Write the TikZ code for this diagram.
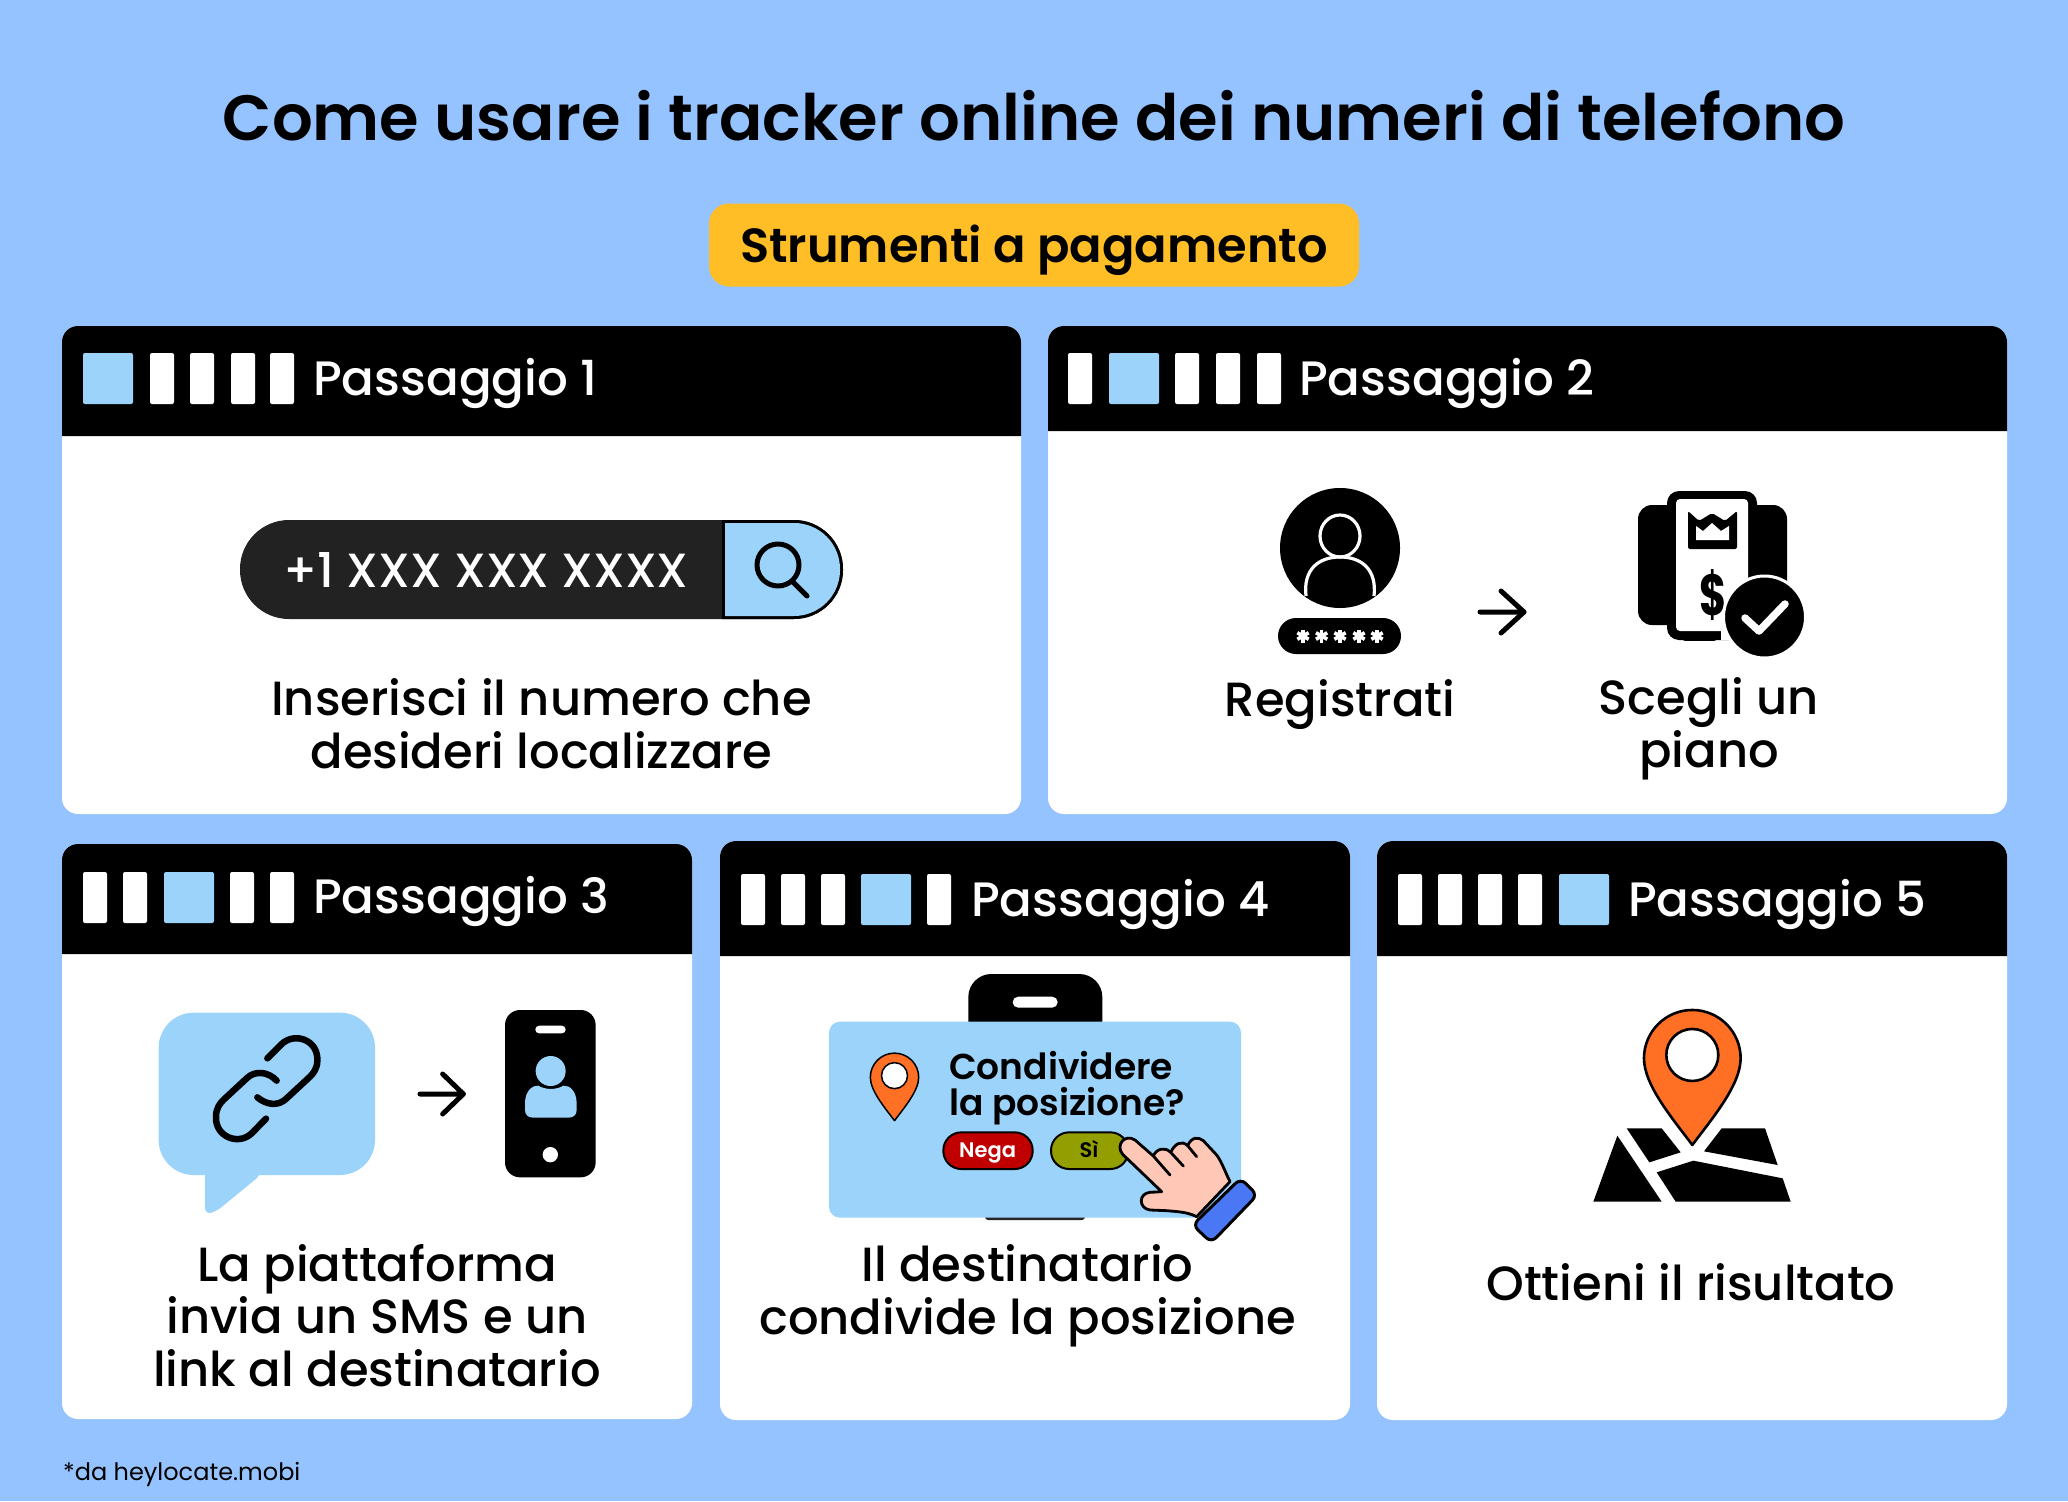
\documentclass[tikz,border=0pt]{standalone}
\usepackage{fontspec}
\usepackage{graphicx}
\setmainfont{Poppins}
\newfontfamily\pmed{Poppins Medium}
\newfontfamily\psemi{Poppins SemiBold}
\newfontfamily\pbold{Poppins Bold}
\definecolor{bgblue}{HTML}{94C3FF}
\definecolor{skyb}{HTML}{9BD3FA}
\definecolor{amber}{HTML}{FFBE26}
\definecolor{orangepin}{HTML}{FF6F24}
\definecolor{darkbar}{HTML}{222222}
\definecolor{redbtn}{HTML}{C00000}
\definecolor{olivebtn}{HTML}{939E00}
\definecolor{skin}{HTML}{FFC7B5}
\definecolor{cuffblue}{HTML}{4A78F5}
\tikzset{
  hdr/.style={anchor=base west,inner sep=0pt,text=white,font=\pmed\fontsize{48.3}{54}\selectfont},
  body/.style={align=center,inner sep=0pt,text=black,font=\pmed\fontsize{48}{52.6}\selectfont},
  wsq/.style={fill=white,rounded corners=2pt},
  bsq/.style={fill=skyb,rounded corners=2pt},
  arrowline/.style={draw=black,line width=5pt,line cap=round,line join=round},
  ico/.style={line cap=round,line join=round}
}
\newcommand\cardbox[5]{%
  \fill[white,rounded corners=16pt] (#1,#3) rectangle (#2,#5);
  \fill[black] (#1,#4) [rounded corners=16pt] -- (#1,#3) -- (#2,#3) [sharp corners] -- (#2,#4) -- cycle;}
\newcommand\whitesq[3]{\fill[wsq] (#1,#2) rectangle ++(24,#3);}
\newcommand\bluesq[3]{\fill[bsq] (#1,#2) rectangle ++(50,#3);}
\newcommand\pinmark[4]{% x y scale linewidth
  \begin{scope}[shift={(#1,#2)},scale=#3]
    \draw[fill=orangepin,line width=#4,line join=round] (0,260) .. controls (-60,180) and (-145,80) .. (-145,0)
      .. controls (-145,-80) and (-80,-145) .. (0,-145) .. controls (80,-145) and (145,-80) .. (145,0)
      .. controls (145,80) and (60,180) .. cycle;
    \draw[fill=white,line width=#4] (0,-10) circle (78);
  \end{scope}}
\newcommand\astermark[2]{%
  \foreach \aa in {90,30,-30}{\draw[white,line width=3.6pt] (#1,#2) ++(\aa:6.5) -- ++(\aa+180:13);}}
\begin{document}
\begin{tikzpicture}[x=1pt,y=-1pt]
\useasboundingbox (0,0) rectangle (2068,1501);
\fill[bgblue] (0,0) rectangle (2068,1501);
\node[anchor=base,inner sep=0pt,font=\psemi\fontsize{64}{70}\selectfont] (title) at (1034,140) {Come usare i tracker online dei numeri di telefono};
\node[fill=amber,rounded corners=20pt,minimum width=650pt,minimum height=83pt,inner sep=0pt] (badge) at (1034,245) {};
\node[anchor=base,inner sep=0pt,font=\psemi\fontsize{47.9}{54}\selectfont] (badgetext) at (1034,262) {Strumenti a pagamento};
% cards
\cardbox{62}{1021}{326}{436}{814}
\cardbox{1048}{2007}{326}{431}{814}
\cardbox{62}{692}{844}{954}{1419}
\cardbox{720}{1350}{841}{956}{1420}
\cardbox{1377}{2007}{841}{956}{1420}
% header squares
\bluesq{83}{353}{51}\whitesq{150}{353}{51}\whitesq{190}{353}{51}\whitesq{231}{353}{51}\whitesq{270}{353}{51}
\whitesq{1068}{353}{51}\bluesq{1109}{353}{51}\whitesq{1175}{353}{51}\whitesq{1216}{353}{51}\whitesq{1257}{353}{51}
\whitesq{83}{872}{51}\whitesq{123}{872}{51}\bluesq{164}{872}{51}\whitesq{230}{872}{51}\whitesq{270}{872}{51}
\whitesq{741}{874}{51}\whitesq{781}{874}{51}\whitesq{821}{874}{51}\bluesq{861}{874}{51}\whitesq{927}{874}{51}
\whitesq{1398}{874}{51}\whitesq{1438}{874}{51}\whitesq{1478}{874}{51}\whitesq{1518}{874}{51}\bluesq{1559}{874}{51}
\node[hdr] (h1) at (313,395) {Passaggio 1};
\node[hdr] (h2) at (1299,395) {Passaggio 2};
\node[hdr] (h3) at (313,913) {Passaggio 3};
\node[hdr] (h4) at (971,916) {Passaggio 4};
\node[hdr] (h5) at (1628,916) {Passaggio 5};
% body text
\node[body] (t1) at (541.5,724) {Inserisci il numero che\\desideri localizzare};
\node[body] (t2a) at (1340,705) {Registrati};
\node[body] (t2b) at (1709,729) {Scegli un\\piano};
\node[body] (t3) at (377,1315.5) {La piattaforma\\invia un SMS e un\\link al destinatario};
\node[body] (t4) at (1027.5,1296) {Il destinatario\\condivide la posizione};
\node[body] (t5) at (1691,1282) {Ottieni il risultato};
\node[anchor=base west,inner sep=0pt,font=\fontsize{24}{28}\selectfont] (foot) at (63,1480) {*da heylocate.mobi};
% search bar
\fill[darkbar,rounded corners=49pt] (240,520) rectangle (843,619);
\fill[black] (722,520) [rounded corners=49pt] -- (843,520) -- (843,619) [sharp corners] -- (722,619) -- cycle;
\fill[skyb] (725,523) [rounded corners=46pt] -- (840,523) -- (840,616) [sharp corners] -- (725,616) -- cycle;
\node[inner sep=0pt,text=white,font=\pmed\fontsize{48}{54}\selectfont] (num) at (486,569.5) {+1 XXX XXX XXXX};
\draw[ico,line width=5pt] (778,565) circle (21);
\draw[ico,line width=5pt] (792,581) -- (807,596);
% step 2 avatar
\fill[black] (1340,548) circle (60);
\draw[white,line width=3.2pt] (1340,536) ellipse (20 and 21);
\draw[white,line width=3.2pt] (1306,596) .. controls (1303,570) and (1318,557) .. (1340,557) .. controls (1362,557) and (1377,570) .. (1374,596);
\fill[black,rounded corners=18pt] (1278,618) rectangle (1401,654);
\foreach \xx in {1303,1321.6,1340,1359,1377}{\astermark{\xx}{636}}
\coordinate (a2s) at (1480,612);
\coordinate (a2e) at (1524,612);
\draw[arrowline] (a2s) -- (a2e) -- ++(-23,-21);
\draw[arrowline] (a2e) -- ++(-23,21);
% plan icon
\fill[black,rounded corners=14pt] (1638,505) rectangle (1787,625);
\fill[black,rounded corners=12pt] (1667,491) rectangle (1757,640);
\fill[white,rounded corners=4pt] (1676,499) rectangle (1748,631);
\fill[black,rounded corners=2pt] (1688,511) -- (1699,521) -- (1712,513) -- (1725,521) -- (1737,511) -- (1737,549) -- (1688,549) -- cycle;
\fill[white] (1696,526) -- (1703,531) -- (1712,523) -- (1721,531) -- (1729,526) -- (1729,540) -- (1696,540) -- cycle;
\node[inner sep=0pt,font=\pbold\fontsize{58}{60}\selectfont] (dollar) at (1713.5,595) {\scalebox{0.72}[1]{\$}};
\fill[white] (1721,640) rectangle (1760,631);
\draw[black,line width=9pt,line cap=round] (1685,636) -- (1714,636);
\draw[white,fill=black,line width=3pt] (1764.5,617) circle (41);
\draw[ico,white,line width=7.5pt] (1745,618) -- (1759,631) -- (1785,604);
% step 3 bubble
\begin{scope}[shift={(140,990)},scale=1/3]
  \fill[skyb,rounded corners=35pt] (56,68) rectangle (705,555);
  \fill[skyb,rounded corners=6pt] (195,530) -- (195,672) -- (228,665) -- (362,555) -- (362,530) -- cycle;
  \draw[ico,line width=6.5pt] (382,205) -- (425,162) .. controls (465,125) and (535,150) .. (532,212) .. controls (532,235) and (520,250) .. (510,260) -- (440,325) .. controls (415,350) and (380,345) .. (352,322);
  \draw[ico,line width=6.5pt] (378,386) -- (335,430) .. controls (295,468) and (225,440) .. (228,380) .. controls (228,355) and (240,340) .. (250,330) -- (320,265) .. controls (345,240) and (385,245) .. (410,272);
  % phone
  \fill[black,rounded corners=15pt] (1095,60) rectangle (1367,562);
  \fill[white,rounded corners=3.8pt] (1186,107) rectangle (1277,130);
  \fill[skyb] (1232,243) circle (45);
  \fill[skyb] (1155,340) .. controls (1155,300) and (1180,285) .. (1195,287) .. controls (1215,300) and (1250,300) .. (1270,287) .. controls (1290,285) and (1310,305) .. (1310,340) -- (1310,360) .. controls (1310,375) and (1300,383) .. (1285,383) -- (1180,383) .. controls (1165,383) and (1155,375) .. (1155,360) -- cycle;
  \fill[white] (1231,494) circle (23);
  \coordinate (a3s) at (840,312);
  \coordinate (a3e) at (970,312);
  \draw[arrowline] (a3s) -- (a3e) -- ++(-62,-60);
  \draw[arrowline] (a3e) -- ++(-62,60);
\end{scope}
% step 4
\begin{scope}[shift={(800,960)},scale=1/3]
  \fill[black,rounded corners=23pt] (505,42) rectangle (907,400);
  \fill[black!85,rounded corners=3pt] (555,700) rectangle (855,780);
  \fill[white,rounded corners=5.5pt] (638,110) rectangle (773,143);
  \fill[skyb,rounded corners=11pt] (87,185) rectangle (1323,773);
  \node[anchor=base west,inner sep=0pt,font=\psemi\fontsize{36}{36.5}\selectfont] (q) at (447,358) {Condividere};
  \node[anchor=base west,inner sep=0pt,font=\psemi\fontsize{36}{36.5}\selectfont] (q2) at (447,465) {la posizione?};
  \draw[fill=redbtn,line width=2pt,rounded corners=18pt] (430,517) rectangle (698,627);
  \draw[fill=olivebtn,line width=2pt,rounded corners=18pt] (753,517) rectangle (985,627);
  \node[anchor=base,inner sep=0pt,text=white,font=\psemi\fontsize{21}{24}\selectfont] (nega) at (563,592) {Nega};
  \node[anchor=base,inner sep=0pt,font=\psemi\fontsize{21}{24}\selectfont] (si) at (867,592) {Sì};
  \draw[fill=skin,line width=2.8pt,line join=round] (1085,695) -- (968,583) .. controls (945,555) and (975,520) .. (1005,540) -- (1060,588) .. controls (1070,565) and (1095,560) .. (1112,577) .. controls (1125,550) and (1145,540) .. (1163,557) .. controls (1175,530) and (1195,530) .. (1210,542) -- (1250,585) .. controls (1265,605) and (1275,635) .. (1290,665) -- (1190,770) .. controls (1160,755) and (1130,755) .. (1100,752) -- (1050,750) .. controls (1015,745) and (1015,700) .. (1050,697) -- cycle;
  \draw[line width=2.8pt,line cap=round] (1060,588) -- (1110,645);
  \draw[line width=2.8pt,line cap=round] (1112,577) -- (1150,618);
  \draw[line width=2.8pt,line cap=round] (1163,557) -- (1190,590);
  \draw[fill=cuffblue,line width=3pt,rounded corners=7pt] (1322,655) -- (1372,705) -- (1234,848) -- (1178,795) -- cycle;
\end{scope}
\pinmark{894.5}{1077.3}{0.1667}{1.5pt}
% step 5
\begin{scope}[shift={(1560,990)},scale=1/3]
  \fill (172,437) -- (305,635) -- (100,635) -- cycle;
  \fill (200,415) -- (305,415) -- (362,487) -- (268,517) -- cycle;
  \fill (485,415) -- (615,415) -- (653,525) -- (432,484) -- cycle;
  \fill (400,512) -- (668,565) -- (692,635) -- (347,635) -- (290,547) -- cycle;
\end{scope}
\pinmark{1692.3}{1058.3}{0.3333}{2.6pt}
\end{tikzpicture}
\end{document}
